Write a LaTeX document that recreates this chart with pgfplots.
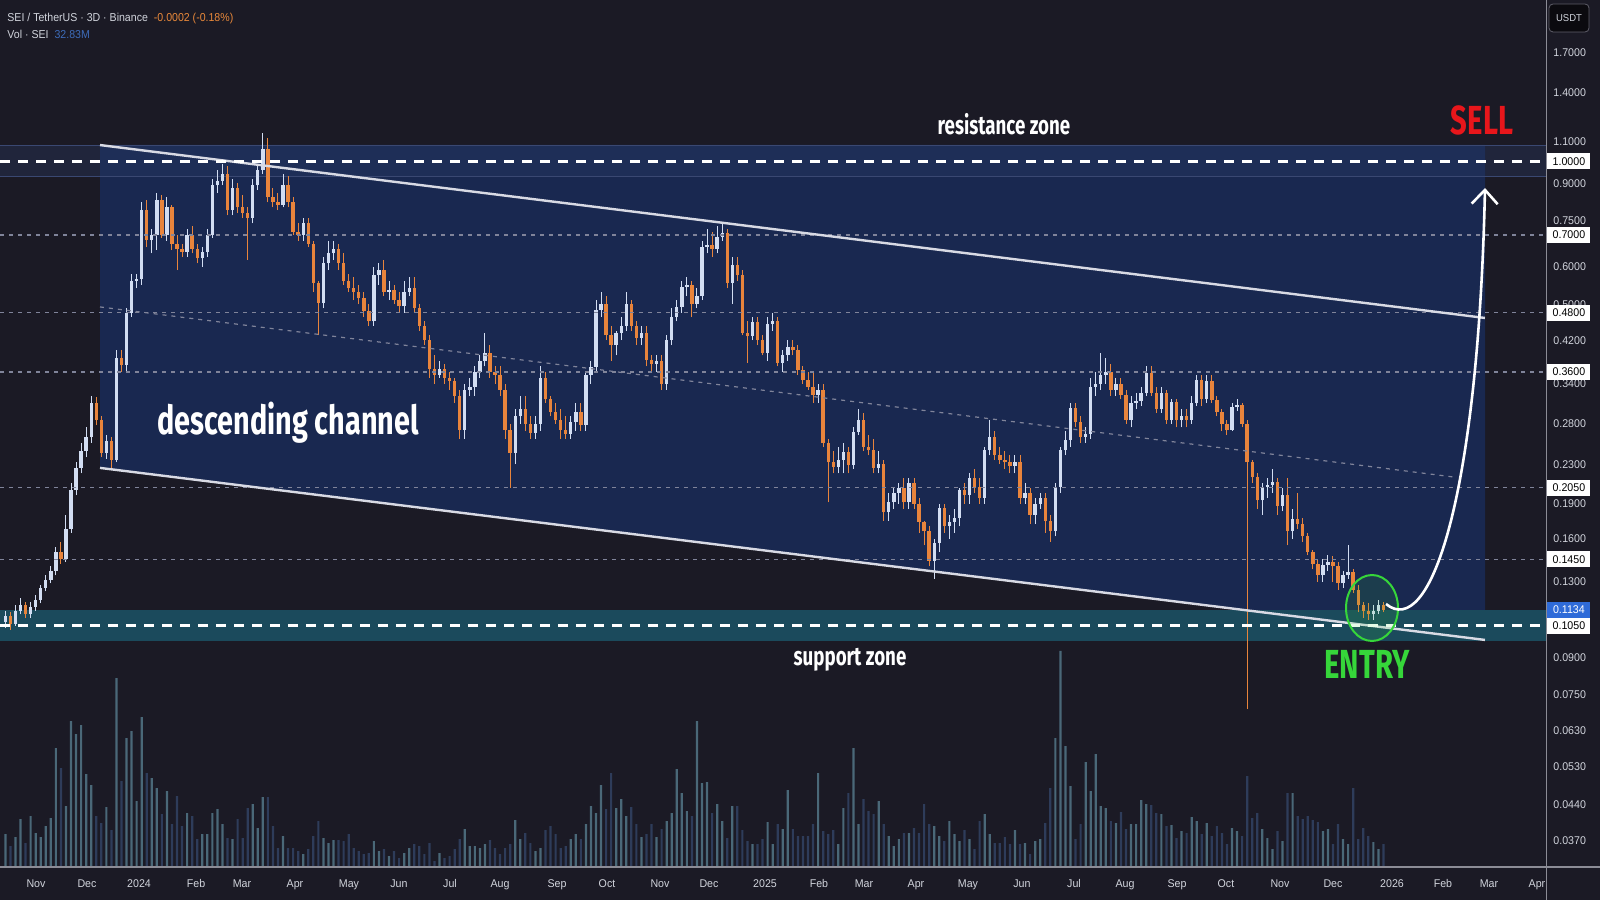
\documentclass[border=0pt]{standalone}
\usepackage{pgfplots}
\pgfplotsset{compat=1.18}
\usepackage{pgfplotstable}
\usepackage{fontspec}
\usetikzlibrary{arrows.meta}
\setmainfont{Liberation Sans}
\newfontfamily\tickfont[FakeStretch=0.95]{Liberation Sans}
\newfontfamily\hdrfont[FakeStretch=0.92]{Liberation Sans}
\newfontfamily\annfont[FakeStretch=0.72]{Fira Sans}
\definecolor{bg}{HTML}{1B1A25}
\definecolor{chan}{HTML}{192850}
\definecolor{resz}{HTML}{2A3A66}
\definecolor{reszl}{HTML}{3A4872}
\definecolor{supz}{HTML}{1B4A5C}
\definecolor{upc}{HTML}{D2DDF2}
\definecolor{dnc}{HTML}{E8843C}
\definecolor{volup}{HTML}{4A6878}
\definecolor{voldn}{HTML}{2E3C5A}
\definecolor{tickc}{HTML}{D1D4DC}
\definecolor{lvl}{HTML}{80849A}
\definecolor{chline}{HTML}{D8DAE4}
\definecolor{sellred}{HTML}{E8161B}
\definecolor{entryg}{HTML}{36D63A}
\definecolor{orng}{HTML}{E8883A}
\definecolor{volblue}{HTML}{3D6BB8}
\definecolor{lblblue}{HTML}{2F6BD8}
\definecolor{axl}{HTML}{8C8C96}
\pgfplotstableread{
i o h l c v
0 0.107 0.113 0.104 0.110 48
1 0.110 0.112 0.103 0.106 30
2 0.106 0.116 0.105 0.113 43.5
3 0.113 0.120 0.111 0.116 70.5
4 0.116 0.118 0.109 0.111 34.5
5 0.111 0.118 0.109 0.115 75
6 0.115 0.122 0.113 0.119 49.5
7 0.119 0.128 0.117 0.126 43.5
8 0.126 0.134 0.124 0.131 60
9 0.131 0.140 0.129 0.137 72
10 0.137 0.154 0.134 0.150 177
11 0.150 0.158 0.142 0.145 147
12 0.145 0.180 0.143 0.168 90
13 0.168 0.210 0.165 0.203 217.5
14 0.203 0.232 0.198 0.226 198
15 0.226 0.255 0.220 0.245 211.5
16 0.245 0.275 0.238 0.262 138
17 0.262 0.320 0.255 0.310 121.5
18 0.310 0.318 0.278 0.285 75
19 0.285 0.290 0.238 0.243 64.5
20 0.243 0.265 0.236 0.258 88.5
21 0.258 0.262 0.226 0.235 54
22 0.235 0.400 0.232 0.385 282
23 0.385 0.400 0.360 0.373 127.5
24 0.373 0.490 0.360 0.480 192
25 0.480 0.580 0.470 0.560 202.5
26 0.560 0.580 0.540 0.565 97.5
27 0.565 0.820 0.550 0.790 223.5
28 0.790 0.830 0.660 0.683 139.5
29 0.683 0.720 0.640 0.700 132
30 0.700 0.860 0.651 0.830 117
31 0.830 0.850 0.690 0.700 78
32 0.700 0.840 0.680 0.800 112.5
33 0.800 0.810 0.650 0.670 63
34 0.670 0.700 0.590 0.655 105
35 0.655 0.670 0.630 0.645 60
36 0.645 0.720 0.630 0.700 79.5
37 0.700 0.730 0.640 0.655 75
38 0.655 0.670 0.610 0.625 40.5
39 0.625 0.660 0.600 0.645 48
40 0.645 0.720 0.630 0.700 48
41 0.700 0.920 0.690 0.890 79.5
42 0.890 0.960 0.860 0.910 85.5
43 0.910 0.990 0.890 0.940 63
44 0.940 0.980 0.770 0.790 42
45 0.790 0.920 0.770 0.880 40.5
46 0.880 0.900 0.780 0.800 70.5
47 0.800 0.850 0.760 0.780 42
48 0.780 0.800 0.620 0.760 87
49 0.760 0.920 0.740 0.890 93
50 0.890 0.990 0.870 0.960 57
51 0.960 1.150 0.940 1.060 103.5
52 1.060 1.120 0.820 0.840 103.5
53 0.840 0.880 0.800 0.820 60
54 0.820 0.860 0.790 0.810 27
55 0.810 0.940 0.800 0.890 45
56 0.890 0.930 0.800 0.820 27
57 0.820 0.840 0.700 0.710 27
58 0.710 0.740 0.680 0.700 22.5
59 0.700 0.760 0.680 0.740 18
60 0.740 0.760 0.660 0.670 25.5
61 0.670 0.680 0.530 0.555 45
62 0.555 0.560 0.430 0.503 67.5
63 0.503 0.630 0.490 0.610 42
64 0.610 0.680 0.590 0.640 34.5
65 0.640 0.680 0.620 0.655 39
66 0.655 0.670 0.590 0.610 39
67 0.610 0.640 0.550 0.560 37.5
68 0.560 0.580 0.530 0.540 48
69 0.540 0.570 0.510 0.530 27
70 0.530 0.550 0.500 0.515 22.5
71 0.515 0.530 0.470 0.485 18
72 0.485 0.500 0.450 0.460 19.5
73 0.460 0.600 0.450 0.575 37.5
74 0.575 0.610 0.550 0.590 22.5
75 0.590 0.620 0.520 0.530 25.5
76 0.530 0.560 0.510 0.535 15
77 0.535 0.550 0.500 0.510 22.5
78 0.510 0.530 0.480 0.495 12
79 0.495 0.560 0.480 0.530 19.5
80 0.530 0.570 0.520 0.540 27
81 0.540 0.570 0.480 0.490 33
82 0.490 0.500 0.440 0.450 30
83 0.450 0.460 0.410 0.420 18
84 0.420 0.430 0.350 0.365 34.5
85 0.365 0.390 0.340 0.355 7.5
86 0.355 0.380 0.350 0.365 19.5
87 0.365 0.375 0.340 0.350 12
88 0.350 0.360 0.330 0.345 15
89 0.345 0.350 0.310 0.320 25.5
90 0.320 0.330 0.260 0.272 40.5
91 0.272 0.340 0.260 0.330 55.5
92 0.330 0.350 0.320 0.335 30
93 0.335 0.370 0.320 0.360 30
94 0.360 0.390 0.350 0.380 27
95 0.380 0.435 0.370 0.395 33
96 0.395 0.410 0.350 0.360 39
97 0.360 0.370 0.340 0.355 27
98 0.355 0.370 0.320 0.330 18
99 0.330 0.340 0.260 0.272 27
100 0.272 0.280 0.205 0.243 33
101 0.243 0.300 0.230 0.290 69
102 0.290 0.320 0.280 0.300 40.5
103 0.300 0.320 0.270 0.280 49.5
104 0.280 0.290 0.260 0.268 34.5
105 0.268 0.290 0.260 0.280 22.5
106 0.280 0.370 0.270 0.350 27
107 0.350 0.360 0.310 0.315 54
108 0.315 0.320 0.290 0.297 60
109 0.297 0.310 0.280 0.285 48
110 0.285 0.300 0.260 0.272 27
111 0.272 0.290 0.260 0.266 30
112 0.266 0.290 0.260 0.282 40.5
113 0.282 0.310 0.270 0.297 48
114 0.297 0.310 0.270 0.278 40.5
115 0.278 0.360 0.270 0.355 63
116 0.355 0.380 0.340 0.369 90
117 0.369 0.510 0.360 0.486 79.5
118 0.486 0.530 0.470 0.500 121.5
119 0.500 0.520 0.420 0.430 85.5
120 0.430 0.450 0.380 0.410 139.5
121 0.410 0.440 0.390 0.435 87
122 0.435 0.470 0.420 0.450 100.5
123 0.450 0.530 0.440 0.500 75
124 0.500 0.510 0.440 0.450 88.5
125 0.450 0.460 0.410 0.425 63
126 0.425 0.450 0.410 0.435 43.5
127 0.435 0.450 0.370 0.382 48
128 0.382 0.390 0.360 0.375 63
129 0.375 0.390 0.360 0.380 43.5
130 0.380 0.390 0.330 0.340 55.5
131 0.340 0.430 0.330 0.420 67.5
132 0.420 0.490 0.410 0.470 79.5
133 0.470 0.510 0.460 0.494 145.5
134 0.494 0.560 0.480 0.544 109.5
135 0.544 0.570 0.520 0.548 82.5
136 0.548 0.560 0.470 0.500 75
137 0.500 0.540 0.490 0.520 217.5
138 0.520 0.680 0.510 0.660 124.5
139 0.660 0.720 0.640 0.668 126
140 0.668 0.710 0.630 0.655 79.5
141 0.655 0.730 0.640 0.693 93
142 0.693 0.745 0.680 0.706 67.5
143 0.706 0.720 0.540 0.555 42
144 0.555 0.630 0.500 0.605 90
145 0.605 0.630 0.560 0.575 90
146 0.575 0.590 0.430 0.435 54
147 0.435 0.460 0.376 0.428 37.5
148 0.428 0.470 0.420 0.458 33
149 0.458 0.470 0.410 0.420 33
150 0.420 0.430 0.390 0.395 40.5
151 0.395 0.470 0.380 0.455 66
152 0.455 0.480 0.440 0.462 33
153 0.462 0.470 0.370 0.376 63
154 0.376 0.400 0.360 0.391 55.5
155 0.391 0.420 0.380 0.406 114
156 0.406 0.420 0.390 0.400 55.5
157 0.400 0.410 0.355 0.363 45
158 0.363 0.370 0.340 0.346 45
159 0.346 0.360 0.330 0.335 45
160 0.335 0.360 0.310 0.322 63
161 0.322 0.340 0.310 0.330 139.5
162 0.330 0.340 0.250 0.255 52.5
163 0.255 0.260 0.191 0.232 48
164 0.232 0.245 0.220 0.227 54
165 0.227 0.250 0.220 0.235 33
166 0.235 0.255 0.220 0.244 87
167 0.244 0.250 0.220 0.229 109.5
168 0.229 0.275 0.225 0.269 177
169 0.269 0.300 0.265 0.285 63
170 0.285 0.295 0.245 0.250 100.5
171 0.250 0.265 0.240 0.246 82.5
172 0.246 0.260 0.220 0.226 78
173 0.226 0.245 0.220 0.230 97.5
174 0.230 0.235 0.175 0.182 63
175 0.182 0.200 0.175 0.191 45
176 0.191 0.205 0.185 0.200 30
177 0.200 0.210 0.190 0.205 40.5
178 0.205 0.215 0.185 0.191 49.5
179 0.191 0.215 0.185 0.210 49.5
180 0.210 0.215 0.185 0.190 57
181 0.190 0.195 0.165 0.174 49.5
182 0.174 0.175 0.155 0.166 93
183 0.166 0.170 0.140 0.144 63
184 0.144 0.160 0.132 0.157 60
185 0.157 0.190 0.150 0.186 45
186 0.186 0.190 0.165 0.170 37.5
187 0.170 0.180 0.160 0.174 67.5
188 0.174 0.185 0.165 0.177 48
189 0.177 0.205 0.170 0.203 37.5
190 0.203 0.210 0.190 0.198 54
191 0.198 0.220 0.190 0.215 40.5
192 0.215 0.225 0.200 0.206 25.5
193 0.206 0.215 0.190 0.195 67.5
194 0.195 0.250 0.190 0.246 78
195 0.246 0.285 0.240 0.262 48
196 0.262 0.270 0.235 0.240 34.5
197 0.240 0.250 0.230 0.235 34.5
198 0.235 0.245 0.225 0.232 43.5
199 0.232 0.240 0.220 0.228 33
200 0.228 0.240 0.220 0.232 54
201 0.232 0.240 0.190 0.195 33
202 0.195 0.210 0.190 0.200 34.5
203 0.200 0.205 0.172 0.180 18
204 0.180 0.195 0.172 0.190 37.5
205 0.190 0.200 0.185 0.195 40.5
206 0.195 0.200 0.165 0.175 64.5
207 0.175 0.180 0.158 0.166 117
208 0.166 0.210 0.162 0.206 192
209 0.206 0.250 0.200 0.246 322.5
210 0.246 0.270 0.240 0.259 180
211 0.259 0.310 0.250 0.302 120
212 0.302 0.310 0.275 0.282 40.5
213 0.282 0.290 0.255 0.263 63
214 0.263 0.275 0.255 0.266 156
215 0.266 0.350 0.260 0.335 112.5
216 0.335 0.360 0.320 0.340 168
217 0.340 0.395 0.330 0.355 90
218 0.355 0.385 0.340 0.360 87
219 0.360 0.375 0.320 0.330 67.5
220 0.330 0.350 0.320 0.340 64.5
221 0.340 0.350 0.315 0.322 81
222 0.322 0.330 0.280 0.285 55.5
223 0.285 0.320 0.275 0.310 63
224 0.310 0.325 0.300 0.313 63
225 0.313 0.335 0.305 0.325 99
226 0.325 0.370 0.320 0.358 93
227 0.358 0.370 0.320 0.325 91.5
228 0.325 0.335 0.295 0.300 79.5
229 0.300 0.335 0.295 0.325 78
230 0.325 0.330 0.280 0.285 60
231 0.285 0.315 0.280 0.311 61.5
232 0.311 0.315 0.275 0.285 42
233 0.285 0.300 0.275 0.290 52.5
234 0.290 0.300 0.275 0.285 49.5
235 0.285 0.320 0.280 0.310 73.5
236 0.310 0.355 0.305 0.346 67.5
237 0.346 0.355 0.305 0.315 48
238 0.315 0.355 0.310 0.345 64.5
239 0.345 0.355 0.310 0.314 45
240 0.314 0.320 0.290 0.296 60
241 0.296 0.300 0.270 0.280 49.5
242 0.280 0.285 0.265 0.272 33
243 0.272 0.310 0.270 0.303 57
244 0.303 0.315 0.298 0.307 52.5
245 0.307 0.310 0.275 0.280 45
246 0.280 0.285 0.070 0.232 135
247 0.232 0.235 0.210 0.216 72
248 0.216 0.220 0.185 0.193 79.5
249 0.193 0.210 0.180 0.206 55.5
250 0.206 0.215 0.195 0.208 42
251 0.208 0.225 0.200 0.211 25.5
252 0.211 0.215 0.180 0.188 52.5
253 0.188 0.205 0.183 0.198 37.5
254 0.198 0.215 0.155 0.166 109.5
255 0.166 0.185 0.160 0.176 109.5
256 0.176 0.200 0.168 0.172 75
257 0.172 0.177 0.158 0.162 70.5
258 0.162 0.165 0.148 0.150 75
259 0.150 0.152 0.138 0.142 69
260 0.142 0.145 0.130 0.134 66
261 0.134 0.145 0.130 0.141 52.5
262 0.141 0.148 0.137 0.143 55.5
263 0.143 0.147 0.130 0.140 33
264 0.140 0.143 0.125 0.129 63
265 0.129 0.137 0.126 0.134 40.5
266 0.134 0.155 0.132 0.136 33
267 0.136 0.138 0.123 0.125 117
268 0.125 0.128 0.112 0.116 40.5
269 0.116 0.118 0.109 0.113 57
270 0.113 0.117 0.108 0.111 45
271 0.111 0.116 0.108 0.113 36
272 0.113 0.119 0.111 0.116 25.5
273 0.116 0.118 0.112 0.1134 32.83
}\candles
\pgfplotsset{
  candle/.style={draw=none, no markers,
    error bars/y dir=plus, error bars/y explicit, error bars/error mark=none,
    error bars/error bar style={draw=#1}},
}
\begin{document}
\begin{tikzpicture}
\fill[bg] (0,-17pt) rectangle (800pt,433pt);
% zones and channel body (pixel coordinates of the 1600x900 frame)
\begin{scope}[shift={(0pt,433pt)},x=0.5pt,y=-0.5pt]
  \fill[chan] (100,145) -- (1485,145) -- (1485,640) -- (100,468) -- cycle;
  \fill[resz,opacity=0.35] (0,146) rectangle (1546,177);
  \draw[reszl,line width=0.5pt] (0,146) -- (1546,146) (0,177) -- (1546,177);
  \fill[supz] (0,610) rectangle (1546,641);
\end{scope}
% volume
\begin{axis}[at={(0,0)}, anchor=south west, scale only axis,
  width=773pt, height=433pt, xmin=-1.07, xmax=305.2, ymin=0, ymax=1299,
  hide axis, ybar, bar width=1.1pt, bar shift=0pt]
\addplot[fill=volup, draw=none, bar shift=0pt,
  restrict expr to domain={\thisrow{c}-\thisrow{o}}{0:10}]
  table[x=i, y=v] {\candles};
\addplot[fill=voldn, draw=none, bar shift=0pt,
  restrict expr to domain={\thisrow{c}-\thisrow{o}}{-10:-0.00001}]
  table[x=i, y=v] {\candles};
\end{axis}
% price
\begin{axis}[at={(0,0)}, anchor=south west, scale only axis,
  width=773pt, height=433pt, xmin=-1.07, xmax=305.2,
  ymode=log, ymin=0.0327, ymax=2.19,
  axis line style={draw=none}, major tick length=0pt, tick style={draw=none},
  yminorticks=false, xminorticks=false,
  ytick pos=right, yticklabel pos=right,
  /pgf/number format/assume math mode=true,
  ytick={0.037,0.044,0.053,0.063,0.075,0.09,0.13,0.16,0.19,0.23,0.28,0.34,0.42,0.5,0.6,0.75,0.9,1.1,1.4,1.7},
  yticklabels={0.0370,0.0440,0.0530,0.0630,0.0750,0.0900,0.1300,0.1600,0.1900,0.2300,0.2800,0.3400,0.4200,0.5000,0.6000,0.7500,0.9000,1.1000,1.4000,1.7000},
  xtick={6.06,16.16,26.47,37.76,46.87,57.37,68.07,77.97,88.08,97.98,109.27,119.18,129.68,139.39,150.48,161.17,170.09,180.39,190.69,201.39,211.69,221.79,232.09,241.80,252.50,263.00,274.69,284.79,293.90,303.41},
  xticklabels={Nov,Dec,2024,Feb,Mar,Apr,May,Jun,Jul,Aug,Sep,Oct,Nov,Dec,2025,Feb,Mar,Apr,May,Jun,Jul,Aug,Sep,Oct,Nov,Dec,2026,Feb,Mar,Apr},
  yticklabel style={font=\tickfont\fontsize{5.6}{6}\selectfont, text=tickc, anchor=west, inner sep=0pt, xshift=3.5pt},
  xticklabel style={font=\tickfont\fontsize{5.6}{6}\selectfont, text=tickc, anchor=base, inner sep=0pt, yshift=-10.6pt},
]
% wicks
\addplot[candle=upc, error bars/error bar style={line width=0.5pt},
  restrict expr to domain={\thisrow{c}-\thisrow{o}}{0:10}]
  table[x=i, y=l, y error expr={\thisrow{h}-\thisrow{l}}] {\candles};
\addplot[candle=dnc, error bars/error bar style={line width=0.5pt},
  restrict expr to domain={\thisrow{c}-\thisrow{o}}{-10:-0.00001}]
  table[x=i, y=l, y error expr={\thisrow{h}-\thisrow{l}}] {\candles};
% bodies
\addplot[candle=upc, error bars/error bar style={line width=1.7pt},
  restrict expr to domain={\thisrow{c}-\thisrow{o}}{0:10}]
  table[x=i, y=o, y error expr={\thisrow{c}-\thisrow{o}}] {\candles};
\addplot[candle=dnc, error bars/error bar style={line width=1.7pt},
  restrict expr to domain={\thisrow{c}-\thisrow{o}}{-10:-0.00001}]
  table[x=i, y=c, y error expr={\thisrow{o}-\thisrow{c}}] {\candles};
% price levels
\draw[lvl, line width=0.6pt, dash pattern=on 2pt off 2.5pt]
  (axis cs:-1.07,0.70) -- (axis cs:305.2,0.70)
  (axis cs:-1.07,0.48) -- (axis cs:305.2,0.48)
  (axis cs:-1.07,0.36) -- (axis cs:305.2,0.36)
  (axis cs:-1.07,0.205) -- (axis cs:305.2,0.205)
  (axis cs:-1.07,0.145) -- (axis cs:305.2,0.145);
\draw[lvl, line width=0.6pt, dash pattern=on 2pt off 2.5pt]
  (axis cs:18.74,0.4935) -- (axis cs:286.8,0.2162);
\draw[chline, line width=1.2pt]
  (axis cs:18.74,1.083) -- (axis cs:293.1,0.4678)
  (axis cs:18.74,0.2259) -- (axis cs:293.1,0.0980);
\draw[white, line width=1.25pt, dash pattern=on 5pt off 4pt]
  (axis cs:-1.07,1.0) -- (axis cs:305.2,1.0)
  (axis cs:-1.07,0.105) -- (axis cs:305.2,0.105);
\end{axis}
% overlays in pixel coordinates
\begin{scope}[shift={(0pt,433pt)},x=0.5pt,y=-0.5pt]
  \fill[bg] (1546.5,866.5) rectangle (1600,900);
  \draw[axl, line width=1pt] (0,866.5) -- (1600,866.5);
  \draw[axl, line width=0.8pt] (1546.5,0) -- (1546.5,900);
  % header
  \node[anchor=base west, inner sep=0pt, text=tickc, font=\hdrfont\fontsize{5.75}{6}\selectfont] at (7,22)
    {SEI / TetherUS · 3D · Binance\hspace{3pt}\textcolor{orng}{-0.0002 (-0.18\%)}};
  \node[anchor=base west, inner sep=0pt, text=tickc, font=\hdrfont\fontsize{5.75}{6}\selectfont] at (7,39)
    {Vol · SEI\hspace{3pt}\textcolor{volblue}{32.83M}};
  % USDT
  \node[draw=axl!60!bg, fill=black!60!bg, rounded corners=2pt, minimum width=20pt, minimum height=14pt,
    inner sep=0pt, text=tickc, font=\tickfont\fontsize{5}{6}\selectfont] at (1569,18) {USDT};
  % boxed price labels
  \foreach \py/\lab in {161.5/1.0000, 235.0/0.7000, 312.7/0.4800, 372.0/0.3600, 487.9/0.2050, 559.3/0.1450, 625.8/0.1050}{
    \node[anchor=west, fill=white, text=black, minimum width=21.5pt, minimum height=8pt, inner sep=0pt,
      font=\tickfont\fontsize{5.6}{6}\selectfont] at (1547,\py) {\lab};
  }
  \node[anchor=west, fill=lblblue, text=white, minimum width=21.5pt, minimum height=8pt, inner sep=0pt,
      font=\tickfont\fontsize{5.6}{6}\selectfont] at (1547,609.9) {0.1134};
  % annotations
  \node[anchor=base, inner sep=0pt, text=white, font=\annfont\bfseries\fontsize{13}{14}\selectfont] at (1004,135) {resistance zone};
  \node[anchor=base, inner sep=0pt, text=white, font=\annfont\bfseries\fontsize{13}{14}\selectfont] at (850,666) {support zone};
  \node[anchor=base west, inner sep=0pt, text=white, font=\annfont\bfseries\fontsize{20}{22}\selectfont] at (157,435) {descending channel};
  \node[anchor=base, inner sep=0pt, text=sellred, font=\annfont\bfseries\fontsize{20.3}{22}\selectfont] at (1482,135) {SELL};
  \node[anchor=base, inner sep=0pt, text=entryg, font=\annfont\bfseries\fontsize{20.3}{22}\selectfont] at (1367,678) {ENTRY};
  \draw[entryg, line width=1pt, fill=entryg, fill opacity=0.12] (1372,608) ellipse [x radius=13pt, y radius=16.5pt];
  \draw[white, line width=1.3pt, -{Straight Barb[length=7pt,width=13pt]}]
    (1386,604) .. controls (1430,640) and (1478,500) .. (1485,188);
\end{scope}
\pgfresetboundingbox
\path (0,-17pt) rectangle (800pt,433pt);
\end{tikzpicture}
\end{document}
